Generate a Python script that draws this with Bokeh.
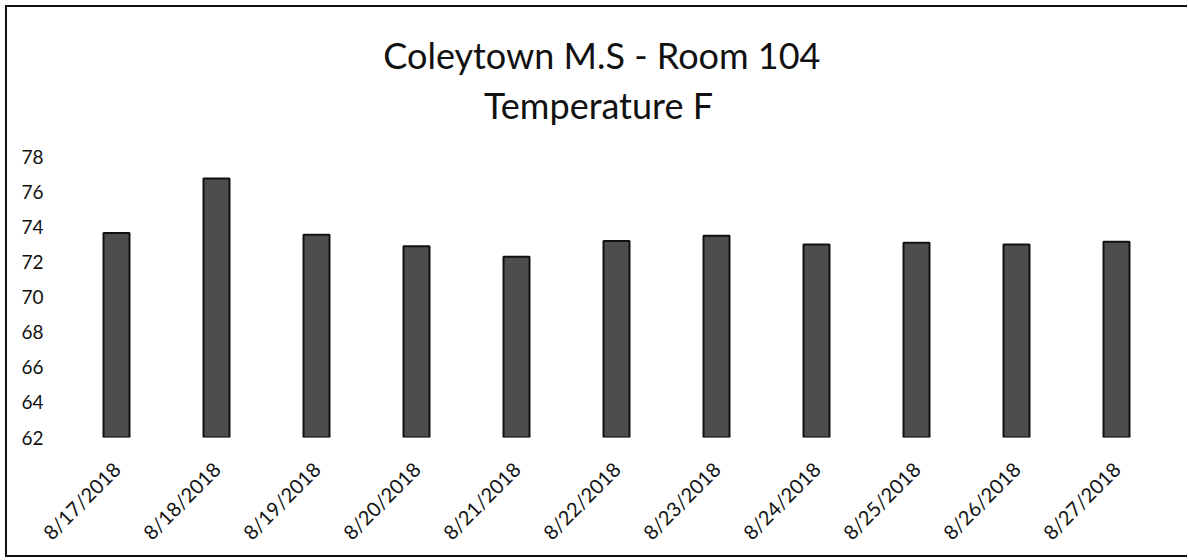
import math
from bokeh.plotting import figure
from bokeh.models import FixedTicker, Label
from bokeh.embed import file_html
from bokeh.resources import INLINE

dates = ["8/17/2018", "8/18/2018", "8/19/2018", "8/20/2018", "8/21/2018", "8/22/2018",
         "8/23/2018", "8/24/2018", "8/25/2018", "8/26/2018", "8/27/2018"]
temps = [73.65, 76.75, 73.55, 72.9, 72.3, 73.2, 73.5, 73.0, 73.1, 73.0, 73.15]
y_ticks = [62, 64, 66, 68, 70, 72, 74, 76, 78]
title_lines = ["Coleytown M.S  - Room 104", "Temperature F"]

FONT = "Lato"

# y range extends above the last tick so the two title lines sit inside the frame
p = figure(x_range=dates, y_range=(62, 86.5), width=1180, height=547,
           output_backend="svg", toolbar_location=None,
           min_border_left=59, min_border_right=21, min_border_top=0, min_border_bottom=117)
p.frame_width = 1100
p.frame_height = 430

p.vbar(x=dates, top=temps, bottom=62, width=0.26,
       fill_color="#4d4d4d", line_color="#111111", line_width=2)

p.xgrid.visible = False
p.ygrid.visible = False
p.outline_line_color = None

p.yaxis.ticker = FixedTicker(ticks=y_ticks)
p.yaxis.axis_line_color = None
p.yaxis.major_tick_line_color = None
p.yaxis.minor_tick_line_color = None
p.yaxis.major_label_standoff = 17
p.yaxis.major_label_text_font = FONT
p.yaxis.major_label_text_font_size = "19px"
p.yaxis.major_label_text_color = "#111111"

p.xaxis.axis_line_color = None
p.xaxis.major_tick_line_color = None
p.xaxis.major_label_orientation = math.pi / 4
p.xaxis.major_label_standoff = 22
p.xaxis.major_label_text_font = FONT
p.xaxis.major_label_text_font_size = "20px"
p.xaxis.major_label_text_color = "#111111"

for txt, xv, yv in zip(title_lines, [5.40, 5.32], [83.77, 80.92]):
    p.add_layout(Label(x=xv, y=yv, text=txt, text_align="center", text_baseline="middle",
                       text_font=FONT, text_font_size="36px", text_color="#111111"))

p.styles = {"margin": "5px 0 0 5px",
            "border-left": "2px solid #111", "border-top": "2px solid #111",
            "border-bottom": "2px solid #111"}

open("out.html", "w").write(file_html(p, INLINE))
